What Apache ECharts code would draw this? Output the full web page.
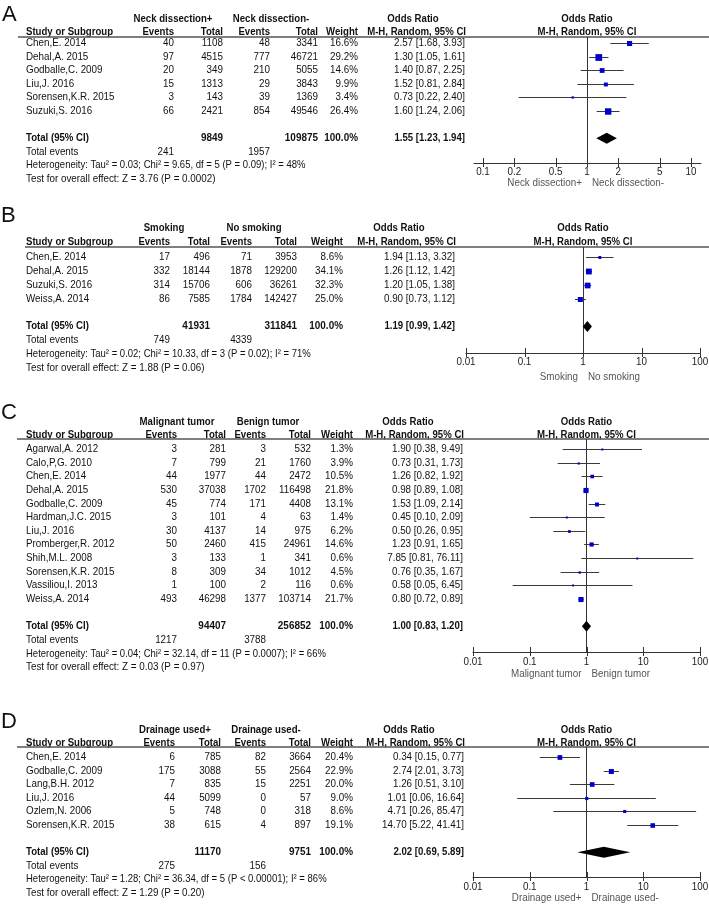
<!DOCTYPE html>
<html><head><meta charset="utf-8">
<script src="https://cdn.jsdelivr.net/npm/echarts@6/dist/echarts.min.js"></script>
<style>html,body{margin:0;padding:0;background:#fff}#c{width:709px;height:907px}</style>
</head><body><div id="c"></div>
<script>
// ---------- Panel A: Neck dissection ----------
const studiesA = ["Chen,E. 2014","Dehal,A. 2015","Godballe,C. 2009","Liu,J. 2016","Sorensen,K.R. 2015","Suzuki,S. 2016"];
const eventsExpA = [40,97,20,15,3,66];
const totalExpA = [1108,4515,349,1313,143,2421];
const eventsCtlA = [48,777,210,29,39,854];
const totalCtlA = [3341,46721,5055,3843,1369,49546];
const weightA = [16.6,29.2,14.6,9.9,3.4,26.4];
const orA = [2.57,1.30,1.40,1.52,0.73,1.60];
const loA = [1.68,1.05,0.87,0.81,0.22,1.24];
const hiA = [3.93,1.61,2.25,2.84,2.40,2.06];
const pooledA = [1.55,1.23,1.94];
const totalsA = [9849,109875];
const totalEventsA = [241,1957];
const hetA = "Heterogeneity: Tau² = 0.03; Chi² = 9.65, df = 5 (P = 0.09); I² = 48%";
const testA = "Test for overall effect: Z = 3.76 (P = 0.0002)";
const groupsA = ["Neck dissection+","Neck dissection-"];
const ticksA = [0.1,0.2,0.5,1,2,5,10];

// ---------- Panel B: Smoking ----------
const studiesB = ["Chen,E. 2014","Dehal,A. 2015","Suzuki,S. 2016","Weiss,A. 2014"];
const eventsExpB = [17,332,314,86];
const totalExpB = [496,18144,15706,7585];
const eventsCtlB = [71,1878,606,1784];
const totalCtlB = [3953,129200,36261,142427];
const weightB = [8.6,34.1,32.3,25.0];
const orB = [1.94,1.26,1.20,0.90];
const loB = [1.13,1.12,1.05,0.73];
const hiB = [3.32,1.42,1.38,1.12];
const pooledB = [1.19,0.99,1.42];
const totalsB = [41931,311841];
const totalEventsB = [749,4339];
const hetB = "Heterogeneity: Tau² = 0.02; Chi² = 10.33, df = 3 (P = 0.02); I² = 71%";
const testB = "Test for overall effect: Z = 1.88 (P = 0.06)";
const groupsB = ["Smoking","No smoking"];
const ticksB = [0.01,0.1,1,10,100];

// ---------- Panel C: Malignant vs benign ----------
const studiesC = ["Agarwal,A. 2012","Calo,P,G. 2010","Chen,E. 2014","Dehal,A. 2015","Godballe,C. 2009","Hardman,J.C. 2015","Liu,J. 2016","Promberger,R. 2012","Shih,M.L. 2008","Sorensen,K.R. 2015","Vassiliou,I. 2013","Weiss,A. 2014"];
const eventsExpC = [3,7,44,530,45,3,30,50,3,8,1,493];
const totalExpC = [281,799,1977,37038,774,101,4137,2460,133,309,100,46298];
const eventsCtlC = [3,21,44,1702,171,4,14,415,1,34,2,1377];
const totalCtlC = [532,1760,2472,116498,4408,63,975,24961,341,1012,116,103714];
const weightC = [1.3,3.9,10.5,21.8,13.1,1.4,6.2,14.6,0.6,4.5,0.6,21.7];
const orC = [1.90,0.73,1.26,0.98,1.53,0.45,0.50,1.23,7.85,0.76,0.58,0.80];
const loC = [0.38,0.31,0.82,0.89,1.09,0.10,0.26,0.91,0.81,0.35,0.05,0.72];
const hiC = [9.49,1.73,1.92,1.08,2.14,2.09,0.95,1.65,76.11,1.67,6.45,0.89];
const pooledC = [1.00,0.83,1.20];
const totalsC = [94407,256852];
const totalEventsC = [1217,3788];
const hetC = "Heterogeneity: Tau² = 0.04; Chi² = 32.14, df = 11 (P = 0.0007); I² = 66%";
const testC = "Test for overall effect: Z = 0.03 (P = 0.97)";
const groupsC = ["Malignant tumor","Benign tumor"];
const ticksC = [0.01,0.1,1,10,100];

// ---------- Panel D: Drainage ----------
const studiesD = ["Chen,E. 2014","Godballe,C. 2009","Lang,B.H. 2012","Liu,J. 2016","Ozlem,N. 2006","Sorensen,K.R. 2015"];
const eventsExpD = [6,175,7,44,5,38];
const totalExpD = [785,3088,835,5099,748,615];
const eventsCtlD = [82,55,15,0,0,4];
const totalCtlD = [3664,2564,2251,57,318,897];
const weightD = [20.4,22.9,20.0,9.0,8.6,19.1];
const orD = [0.34,2.74,1.26,1.01,4.71,14.70];
const loD = [0.15,2.01,0.51,0.06,0.26,5.22];
const hiD = [0.77,3.73,3.10,16.64,85.47,41.41];
const pooledD = [2.02,0.69,5.89];
const totalsD = [11170,9751];
const totalEventsD = [275,156];
const hetD = "Heterogeneity: Tau² = 1.28; Chi² = 36.34, df = 5 (P < 0.00001); I² = 86%";
const testD = "Test for overall effect: Z = 1.29 (P = 0.20)";
const groupsD = ["Drainage used+","Drainage used-"];
const ticksD = [0.01,0.1,1,10,100];

// ---------- layout (positions only) ----------
const FONT = '"Liberation Sans", Arial, Helvetica, sans-serif';
const FS = 10.7;
const SX = 0.92;   // regular text horizontal scale
const SXB = 0.9;   // bold text horizontal scale
const SXN = 0.93;  // bold numbers
const SXF = 0.89;  // footer lines
const TXT = '#111';
const panels = [
  {letter:'A', studies:studiesA, ev1:eventsExpA, tot1:totalExpA, ev2:eventsCtlA, tot2:totalCtlA, w:weightA, or:orA, lo:loA, hi:hiA, pooled:pooledA, totals:totalsA, tev:totalEventsA, het:hetA, test:testA, groups:groupsA, ticks:ticksA,
   L:{top:37, axisY:163, row0:43, step:13.6, gl:474, gr:701, xmin:0.082, xmax:12.5, lineX0:18, letterX:2, letterY:15, h1:19, h2:32, study:26, c:[174,223,270,318,358,465], grp:[173,271], orHead:413, sq:1.25, favY:183, tlY:172}},
  {letter:'B', studies:studiesB, ev1:eventsExpB, tot1:totalExpB, ev2:eventsCtlB, tot2:totalCtlB, w:weightB, or:orB, lo:loB, hi:hiB, pooled:pooledB, totals:totalsB, tev:totalEventsB, het:hetB, test:testB, groups:groupsB, ticks:ticksB,
   L:{top:247, axisY:353, row0:257, step:13.9, gl:466, gr:700, xmin:0.01, xmax:100, lineX0:25, letterX:1, letterY:216, h1:228, h2:242, study:26, c:[170,210,252,297,343,455], grp:[164,254], orHead:399, sq:1.0, favY:377, tlY:362}},
  {letter:'C', studies:studiesC, ev1:eventsExpC, tot1:totalExpC, ev2:eventsCtlC, tot2:totalCtlC, w:weightC, or:orC, lo:loC, hi:hiC, pooled:pooledC, totals:totalsC, tev:totalEventsC, het:hetC, test:testC, groups:groupsC, ticks:ticksC,
   L:{top:439, axisY:652, row0:449, step:13.64, gl:473, gr:700, xmin:0.01, xmax:100, lineX0:17, letterX:1, letterY:413, h1:422, h2:435, study:26, c:[177,226,266,311,353,463], grp:[177,268], orHead:408, sq:1.1, favY:674, tlY:662}},
  {letter:'D', studies:studiesD, ev1:eventsExpD, tot1:totalExpD, ev2:eventsCtlD, tot2:totalCtlD, w:weightD, or:orD, lo:loD, hi:hiD, pooled:pooledD, totals:totalsD, tev:totalEventsD, het:hetD, test:testD, groups:groupsD, ticks:ticksD,
   L:{top:747, axisY:877, row0:757, step:13.6, gl:473, gr:700, xmin:0.01, xmax:100, lineX0:17, letterX:1, letterY:722, h1:730, h2:743, study:26, c:[175,221,266,311,353,464], grp:[175,266], orHead:409, sq:1.05, favY:898, tlY:887}}
];

function T(text, x, y, align, bold, sx, size, color) {
  return {type:'text', silent:true, x:x, y:y, scaleX:(sx || (bold ? SXB : SX)), scaleY:1,
    style:{text:String(text), x:0, y:0, align:align, textAlign:align, verticalAlign:'middle', textVerticalAlign:'middle',
    font:(bold?'bold ':'') + (size || FS) + 'px ' + FONT, fill:color||TXT}};
}
const fmtOR = (o,l,h) => o.toFixed(2) + ' [' + l.toFixed(2) + ', ' + h.toFixed(2) + ']';
const crisp = v => Math.round(v) + 0.5;

const grids = [], xAxes = [], yAxes = [], series = [];
panels.forEach((p, k) => {
  const L = p.L, n = p.studies.length;
  grids.push({left:L.gl, top:L.top, width:L.gr - L.gl, height:L.axisY - L.top, containLabel:false});
  const yMin = (L.top - L.row0) / L.step, yMax = (L.axisY - L.row0) / L.step;
  xAxes.push({type:'log', logBase:10, gridIndex:k, min:L.xmin, max:L.xmax, position:'bottom',
    axisLine:{show:true, onZero:false, lineStyle:{color:'#333', width:1}},
    axisTick:{show:false}, axisLabel:{show:false},
    splitLine:{show:false}, minorTick:{show:false}, minorSplitLine:{show:false}});
  yAxes.push({type:'value', gridIndex:k, inverse:true, min:yMin, max:yMax, show:false, splitLine:{show:false}});

  // tick marks crossing the axis line + tick labels
  series.push({type:'custom', xAxisIndex:k, yAxisIndex:k, clip:false, silent:true, z:3,
    data: p.ticks.map(v => [v, yMax]), encode:{x:0, y:1},
    renderItem:(params, api) => {
      const v = api.value(0);
      const pt = api.coord([v, api.value(1)]);
      const x = crisp(pt[0]);
      return {type:'group', children:[
        {type:'line', shape:{x1:x, y1:pt[1] - 5, x2:x, y2:pt[1] + 4}, style:{stroke:'#333', lineWidth:1}},
        T(String(parseFloat(v.toPrecision(3))), pt[0], L.tlY, 'center', false, SX, FS, '#1a1a1a')
      ]};
    }
  });
  // study estimates
  series.push({type:'custom', xAxisIndex:k, yAxisIndex:k, clip:false, silent:true, z:5,
    data: p.or.map((v, i) => [v, i, p.lo[i], p.hi[i], p.w[i]]),
    encode:{x:[0,2,3], y:1},
    renderItem:(params, api) => {
      const yi = api.value(1);
      const y = api.coord([1, yi])[1];
      const xo = api.coord([api.value(0), yi])[0];
      const xl = api.coord([api.value(2), yi])[0];
      const xh = api.coord([api.value(3), yi])[0];
      const s = Math.max(2, L.sq * Math.sqrt(api.value(4)));
      const yc = crisp(y);
      return {type:'group', children:[
        {type:'line', shape:{x1:xl, y1:yc, x2:xh, y2:yc}, style:{stroke:'#3a3a3a', lineWidth:1}},
        {type:'rect', shape:{x:xo - s/2, y:yc - s/2, width:s, height:s}, style:{fill:'#0000cc'}}
      ]};
    },
    markLine:{silent:true, symbol:['none','none'], animation:false, label:{show:false},
      lineStyle:{color:'#333', width:1, type:'solid'}, data:[{xAxis:1}]}
  });
  // pooled diamond
  series.push({type:'custom', xAxisIndex:k, yAxisIndex:k, clip:false, silent:true, z:6,
    data:[[p.pooled[0], n + 1, p.pooled[1], p.pooled[2]]],
    encode:{x:[0,2,3], y:1},
    renderItem:(params, api) => {
      const yi = api.value(1);
      const y = api.coord([1, yi])[1];
      const xo = api.coord([api.value(0), yi])[0];
      const xl = api.coord([api.value(2), yi])[0];
      const xh = api.coord([api.value(3), yi])[0];
      const h = 5.5;
      return {type:'polygon', shape:{points:[[xl,y],[xo,y-h],[xh,y],[xo,y+h]]}, style:{fill:'#000'}};
    }
  });
  // table text rows
  const rows = [];
  for (let i = 0; i < n; i++) rows.push([1, i]);
  rows.push([1, n + 1], [1, n + 2], [1, n + 3], [1, n + 4]);
  series.push({type:'custom', xAxisIndex:k, yAxisIndex:k, clip:false, silent:true, z:4,
    data: rows, encode:{x:0, y:1},
    renderItem:(params, api) => {
      const idx = params.dataIndex;
      const y = api.coord([1, api.value(1)])[1];
      const C = L.c;
      let ch;
      if (idx < n) {
        ch = [T(p.studies[idx], L.study, y, 'left'), T(p.ev1[idx], C[0], y, 'right'), T(p.tot1[idx], C[1], y, 'right'),
              T(p.ev2[idx], C[2], y, 'right'), T(p.tot2[idx], C[3], y, 'right'), T(p.w[idx].toFixed(1) + '%', C[4], y, 'right'),
              T(fmtOR(p.or[idx], p.lo[idx], p.hi[idx]), C[5], y, 'right')];
      } else if (idx === n) {
        ch = [T('Total (95% CI)', L.study, y, 'left', true), T(p.totals[0], C[1], y, 'right', true, SXN), T(p.totals[1], C[3], y, 'right', true, SXN),
              T('100.0%', C[4], y, 'right', true, SXN), T(fmtOR(p.pooled[0], p.pooled[1], p.pooled[2]), C[5], y, 'right', true)];
      } else if (idx === n + 1) {
        ch = [T('Total events', L.study, y, 'left'), T(p.tev[0], C[0], y, 'right'), T(p.tev[1], C[2], y, 'right')];
      } else if (idx === n + 2) {
        ch = [T(p.het, L.study, y, 'left', false, SXF)];
      } else {
        ch = [T(p.test, L.study, y, 'left', false, SX)];
      }
      return {type:'group', children:ch};
    }
  });
});

const chart = echarts.init(document.getElementById('c'), null, {renderer:'canvas'});
chart.setOption({animation:false, backgroundColor:'#fff', grid:grids, xAxis:xAxes, yAxis:yAxes, series:series});

const graphic = [];
panels.forEach((p, k) => {
  const L = p.L, C = L.c;
  const x1 = chart.convertToPixel({xAxisIndex:k}, 1);
  graphic.push(T(p.letter, L.letterX, L.letterY, 'left', false, 1, 22, '#111'));
  graphic.push(T(p.groups[0], L.grp[0], L.h1, 'center', true));
  graphic.push(T(p.groups[1], L.grp[1], L.h1, 'center', true));
  graphic.push(T('Odds Ratio', L.orHead, L.h1, 'center', true));
  graphic.push(T('Odds Ratio', x1, L.h1, 'center', true));
  graphic.push(T('Study or Subgroup', L.study, L.h2, 'left', true));
  graphic.push(T('Events', C[0], L.h2, 'right', true));
  graphic.push(T('Total', C[1], L.h2, 'right', true));
  graphic.push(T('Events', C[2], L.h2, 'right', true));
  graphic.push(T('Total', C[3], L.h2, 'right', true));
  graphic.push(T('Weight', C[4], L.h2, 'right', true));
  graphic.push(T('M-H, Random, 95% CI', C[5] + 1, L.h2, 'right', true));
  graphic.push(T('M-H, Random, 95% CI', x1, L.h2, 'center', true));
  graphic.push({type:'line', silent:true, shape:{x1:L.lineX0, y1:L.top, x2:709, y2:L.top}, style:{stroke:'#555', lineWidth:1.5}});
  graphic.push(T(p.groups[0], x1 - 5, L.favY, 'right', false, SX, FS, '#555'));
  graphic.push(T(p.groups[1], x1 + 5, L.favY, 'left', false, SX, FS, '#555'));
});
chart.setOption({graphic:graphic});
</script></body></html>
